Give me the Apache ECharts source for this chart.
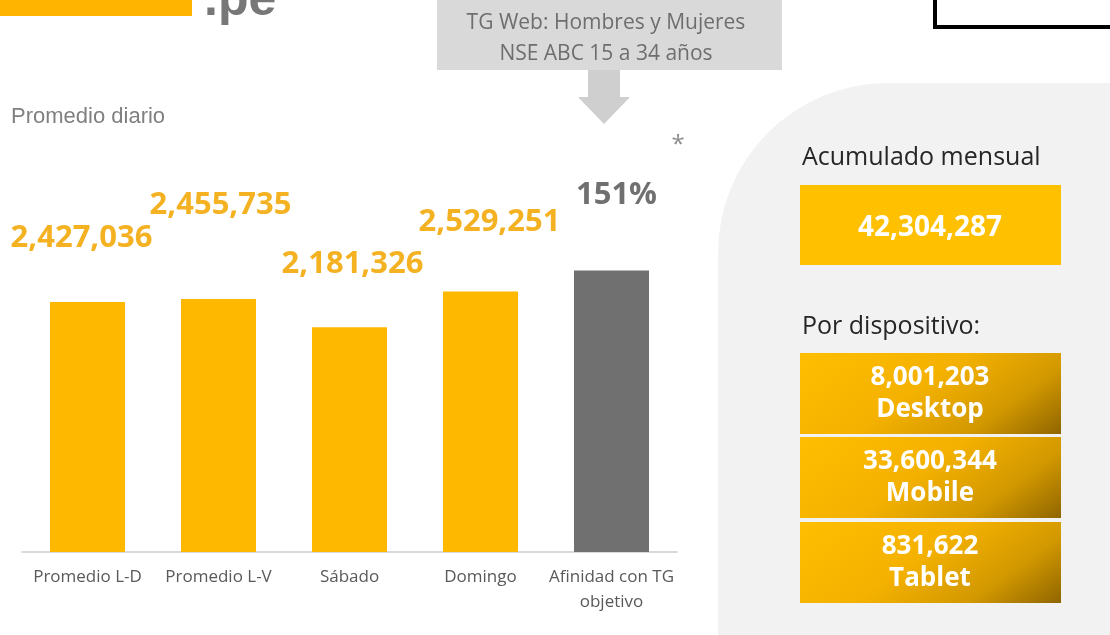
<!DOCTYPE html>
<html>
<head>
<meta charset="utf-8">
<script src="https://cdn.jsdelivr.net/npm/echarts@6/dist/echarts.min.js"></script>
<style>
html,body{margin:0;padding:0;background:#fff;}
#chart{width:1110px;height:635px;}
</style>
</head>
<body>
<div id="chart"></div>
<script>
// ---- data ----
var categories = ['Promedio L-D', 'Promedio L-V', 'Sábado', 'Domingo', 'Afinidad con TG\nobjetivo'];
var dailyAverages = [2427036, 2455735, 2181326, 2529251];
var affinityPct = 151;
var monthlyTotal = 42304287;
var deviceNames = ['Desktop', 'Mobile', 'Tablet'];
var deviceValues = [8001203, 33600344, 831622];
var chartTitle = 'Promedio diario';
var calloutLines = ['TG Web: Hombres y Mujeres', 'NSE ABC 15 a 34 años'];

// ---- layout / style (not data) ----
var labelOffsets = [[-6, -48], [2, -78], [3, -48], [9, -54], [5, -60]];
var FONT = '"Open Sans", "Noto Sans", sans-serif';
var fmt = function (v) { return Number(v).toLocaleString('en-US'); };

var yellowData = categories.map(function (c, i) {
  if (i < dailyAverages.length) {
    return { value: dailyAverages[i], label: { offset: labelOffsets[i] } };
  }
  return '-';
});
var grayData = categories.map(function (c, i) {
  return i === categories.length - 1 ? { value: affinityPct, label: { offset: labelOffsets[i] } } : '-';
});

var deviceTops = [353, 437, 522];
var devGradient = {
  type: 'linear', x: 0, y: 0, x2: 0.49, y2: 2.19,
  colorStops: [
    { offset: 0, color: '#ffbe00' },
    { offset: 0.45, color: '#f4b100' },
    { offset: 0.75, color: '#d29800' },
    { offset: 1, color: '#8f6500' }
  ]
};

var elements = [
  // right panel
  { type: 'rect', shape: { x: 718, y: 83, width: 420, height: 600, r: [170, 0, 0, 0] }, style: { fill: '#f2f2f2' }, z: -10 },
  // top-left logo fragment
  { type: 'rect', shape: { x: 0, y: 0, width: 192, height: 16 }, style: { fill: '#ffb400' } },
  { type: 'text', x: 204, y: 26, style: { text: '.pe', fontSize: 50, fontWeight: 'bold', fontFamily: 'Liberation Sans, Arial, sans-serif', fill: '#777777', align: 'left', verticalAlign: 'bottom' } },
  // top-right box
  { type: 'rect', shape: { x: 935, y: -10, width: 200, height: 37 }, style: { fill: '#ffffff', stroke: '#000000', lineWidth: 4 } },
  // callout
  { type: 'rect', shape: { x: 437, y: 0, width: 345, height: 70 }, style: { fill: '#d9d9d9' } },
  { type: 'text', x: 606, y: 23, style: { text: calloutLines[0], fontSize: 21, fontFamily: FONT, fill: '#6e6e6e', align: 'center', verticalAlign: 'middle' } },
  { type: 'text', x: 606, y: 54, style: { text: calloutLines[1], fontSize: 21, fontFamily: FONT, fill: '#6e6e6e', align: 'center', verticalAlign: 'middle' } },
  { type: 'polygon', shape: { points: [[588, 70], [620, 70], [620, 97], [630, 97], [604, 124], [578, 97], [588, 97]] }, style: { fill: '#cfcfcf' } },
  // asterisk
  { type: 'text', x: 678, y: 145, style: { text: '*', fontSize: 24, fontFamily: FONT, fill: '#8c8c8c', align: 'center', verticalAlign: 'middle' } },
  // monthly
  { type: 'text', x: 802, y: 158, style: { text: 'Acumulado mensual', fontSize: 25, fontFamily: FONT, fill: '#262626', align: 'left', verticalAlign: 'middle' } },
  { type: 'rect', shape: { x: 800, y: 185, width: 261, height: 80 }, style: { fill: '#ffc000' } },
  { type: 'text', x: 930, y: 228, style: { text: fmt(monthlyTotal), fontSize: 28, fontWeight: 'bold', fontFamily: FONT, fill: '#ffffff', align: 'center', verticalAlign: 'middle' } },
  { type: 'text', x: 802, y: 327, style: { text: 'Por dispositivo:', fontSize: 25, fontFamily: FONT, fill: '#262626', align: 'left', verticalAlign: 'middle' } }
];
deviceNames.forEach(function (name, i) {
  var t = deviceTops[i];
  elements.push({ type: 'rect', shape: { x: 800, y: t, width: 261, height: 81 }, style: { fill: devGradient } });
  elements.push({ type: 'text', x: 930, y: t + 25, style: { text: fmt(deviceValues[i]), fontSize: 26, fontWeight: 'bold', fontFamily: FONT, fill: '#ffffff', align: 'center', verticalAlign: 'middle' } });
  elements.push({ type: 'text', x: 930, y: t + 57, style: { text: name, fontSize: 26, fontWeight: 'bold', fontFamily: FONT, fill: '#ffffff', align: 'center', verticalAlign: 'middle' } });
});

var chart = echarts.init(document.getElementById('chart'), null, { renderer: 'canvas' });
chart.setOption({
  animation: false,
  backgroundColor: '#ffffff',
  title: {
    text: chartTitle, left: 6, top: 101,
    textStyle: { fontSize: 22, fontWeight: 'normal', color: '#808080', fontFamily: 'Liberation Sans, Arial, sans-serif' }
  },
  grid: { left: 22, right: 433, top: 140, bottom: 83, containLabel: false },
  xAxis: {
    type: 'category',
    data: categories,
    axisLine: { show: true, lineStyle: { color: '#d9d9d9', width: 2 } },
    axisTick: { show: false },
    axisLabel: { color: '#595959', fontSize: 17, fontFamily: FONT, margin: 13, lineHeight: 25, interval: 0 }
  },
  yAxis: [
    { type: 'value', min: 0, max: 4000000, show: false, splitLine: { show: false } },
    { type: 'value', min: 0, max: 221, show: false, splitLine: { show: false } }
  ],
  series: [
    {
      type: 'bar', data: yellowData, barWidth: 75, barGap: '-100%',
      itemStyle: { color: '#ffb800' },
      label: {
        show: true, position: 'top', distance: 0,
        formatter: function (p) { return fmt(p.value); },
        fontSize: 31, lineHeight: 31, fontWeight: 'bold', fontFamily: FONT, color: '#f4b223'
      }
    },
    {
      type: 'bar', data: grayData, barWidth: 75, barGap: '-100%', yAxisIndex: 1,
      itemStyle: { color: '#707070' },
      label: {
        show: true, position: 'top', distance: 0,
        formatter: function (p) { return p.value + '%'; },
        fontSize: 31, lineHeight: 31, fontWeight: 'bold', fontFamily: FONT, color: '#707070'
      }
    }
  ],
  graphic: { elements: elements }
});
</script>
</body>
</html>
